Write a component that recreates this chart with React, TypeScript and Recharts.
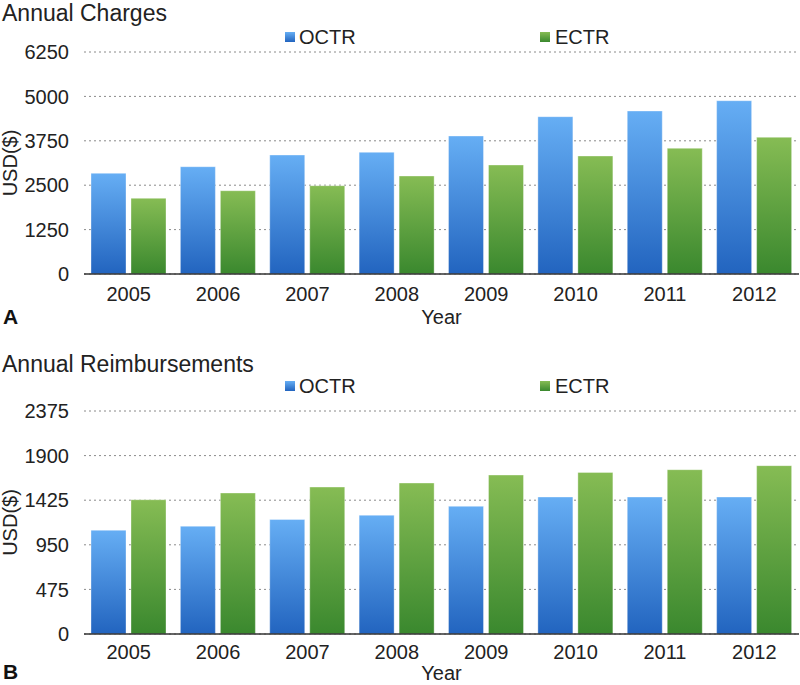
import { BarChart, Bar, XAxis, YAxis, CartesianGrid } from 'recharts';

const years = ['2005', '2006', '2007', '2008', '2009', '2010', '2011', '2012'];

const chargesOctr = [2835, 3021, 3350, 3426, 3885, 4429, 4589, 4879];
const chargesEctr = [2131, 2345, 2486, 2759, 3069, 3322, 3539, 3849];
const chargesTicks = [0, 1250, 2500, 3750, 5000, 6250];

const reimbOctr = [1105, 1148, 1219, 1265, 1360, 1459, 1459, 1459];
const reimbEctr = [1430, 1502, 1565, 1608, 1693, 1721, 1750, 1793];
const reimbTicks = [0, 475, 950, 1425, 1900, 2375];

const FONT = '"Liberation Sans", Arial, Helvetica, sans-serif';
const TEXT = '#222';

interface PanelProps {
    top: number;
    title: string;
    letter: string;
    octr: number[];
    ectr: number[];
    ticks: number[];
    titleY: number;
    legendY: number;
    plotTop: number;
    plotBottom: number;
    letterY: number;
    xTickMargin: number;
    yearOffset: number;
}

const renderYLabel = (props: any) => {
    const { viewBox } = props;
    const cx = 10;
    const cy = viewBox.y + viewBox.height / 2;
    return (
        <text
            x={cx}
            y={cy}
            transform={`rotate(-90 ${cx} ${cy})`}
            textAnchor="middle"
            dominantBaseline="central"
            fontSize={20}
            fontFamily={FONT}
            fill={TEXT}
        >
            USD($)
        </text>
    );
};

function Panel({ top, title, letter, octr, ectr, ticks, titleY, legendY, plotTop, plotBottom, letterY, xTickMargin, yearOffset }: PanelProps) {
    const data = years.map((year, i) => ({ year, OCTR: octr[i], ECTR: ectr[i] }));
    const height = 340;
    const xAxisHeight = 51;

    return (
        <div style={{ position: 'absolute', left: 0, top, width: 800, height }}>
            <BarChart
                width={800}
                height={height}
                data={data}
                barGap={5}
                margin={{ top: plotTop, right: 1, left: 0, bottom: height - plotBottom - xAxisHeight }}
            >
                <CartesianGrid vertical={false} stroke="#8a8a8a" strokeDasharray="2 3" />
                <XAxis
                    dataKey="year"
                    height={xAxisHeight}
                    tickLine={false}
                    tickSize={0}
                    tickMargin={xTickMargin}
                    interval={0}
                    axisLine={{ stroke: '#333', strokeWidth: 1.5 }}
                    tick={{ fontSize: 20, fill: TEXT, fontFamily: FONT }}
                    label={{ value: 'Year', position: 'insideBottom', offset: yearOffset, fontSize: 20, fill: TEXT, fontFamily: FONT }}
                />
                <YAxis
                    width={84}
                    domain={[0, ticks[ticks.length - 1]]}
                    ticks={ticks}
                    interval={0}
                    axisLine={false}
                    tickLine={false}
                    tickSize={0}
                    tickMargin={15}
                    tick={{ fontSize: 20, fill: TEXT, fontFamily: FONT }}
                    label={renderYLabel}
                />
                <Bar dataKey="OCTR" fill="url(#gradBlue)" stroke="rgba(255,255,255,0.35)" barSize={35} isAnimationActive={false} />
                <Bar dataKey="ECTR" fill="url(#gradGreen)" stroke="rgba(255,255,255,0.35)" barSize={35} isAnimationActive={false} />
            </BarChart>
            <svg width={800} height={height} style={{ position: 'absolute', left: 0, top: 0, pointerEvents: 'none' }}>
                <text x={2} y={titleY} fontSize={23} fontFamily={FONT} fill={TEXT}>{title}</text>
                <rect x={285} y={legendY - 12} width={10} height={10} fill="url(#gradBlue)" />
                <text x={299} y={legendY} fontSize={20} fontFamily={FONT} fill={TEXT}>OCTR</text>
                <rect x={540} y={legendY - 12} width={10} height={10} fill="url(#gradGreen)" />
                <text x={555} y={legendY} fontSize={20} fontFamily={FONT} fill={TEXT}>ECTR</text>
                <text x={3} y={letterY} fontSize={21} fontWeight="bold" fontFamily={FONT} fill="#111">{letter}</text>
            </svg>
        </div>
    );
}

export default function App() {
    return (
        <div style={{ position: 'absolute', left: 0, top: 0, width: 800, height: 685, overflow: 'hidden', background: '#fff' }}>
            <svg width={0} height={0} style={{ position: 'absolute' }}>
                <defs>
                    <linearGradient id="gradBlue" x1="0" y1="0" x2="0" y2="1">
                        <stop offset="0%" stopColor="#66aef4" />
                        <stop offset="100%" stopColor="#2264bf" />
                    </linearGradient>
                    <linearGradient id="gradGreen" x1="0" y1="0" x2="0" y2="1">
                        <stop offset="0%" stopColor="#86bc54" />
                        <stop offset="100%" stopColor="#3a882e" />
                    </linearGradient>
                </defs>
            </svg>
            <Panel
                top={0}
                title="Annual Charges"
                letter="A"
                octr={chargesOctr}
                ectr={chargesEctr}
                ticks={chargesTicks}
                titleY={21}
                legendY={44}
                plotTop={52}
                plotBottom={274}
                letterY={324}
                xTickMargin={13}
                yearOffset={1}
            />
            <Panel
                top={345}
                title="Annual Reimbursements"
                letter="B"
                octr={reimbOctr}
                ectr={reimbEctr}
                ticks={reimbTicks}
                titleY={27}
                legendY={48}
                plotTop={66}
                plotBottom={289}
                letterY={334}
                xTickMargin={11}
                yearOffset={5}
            />
        </div>
    );
}
